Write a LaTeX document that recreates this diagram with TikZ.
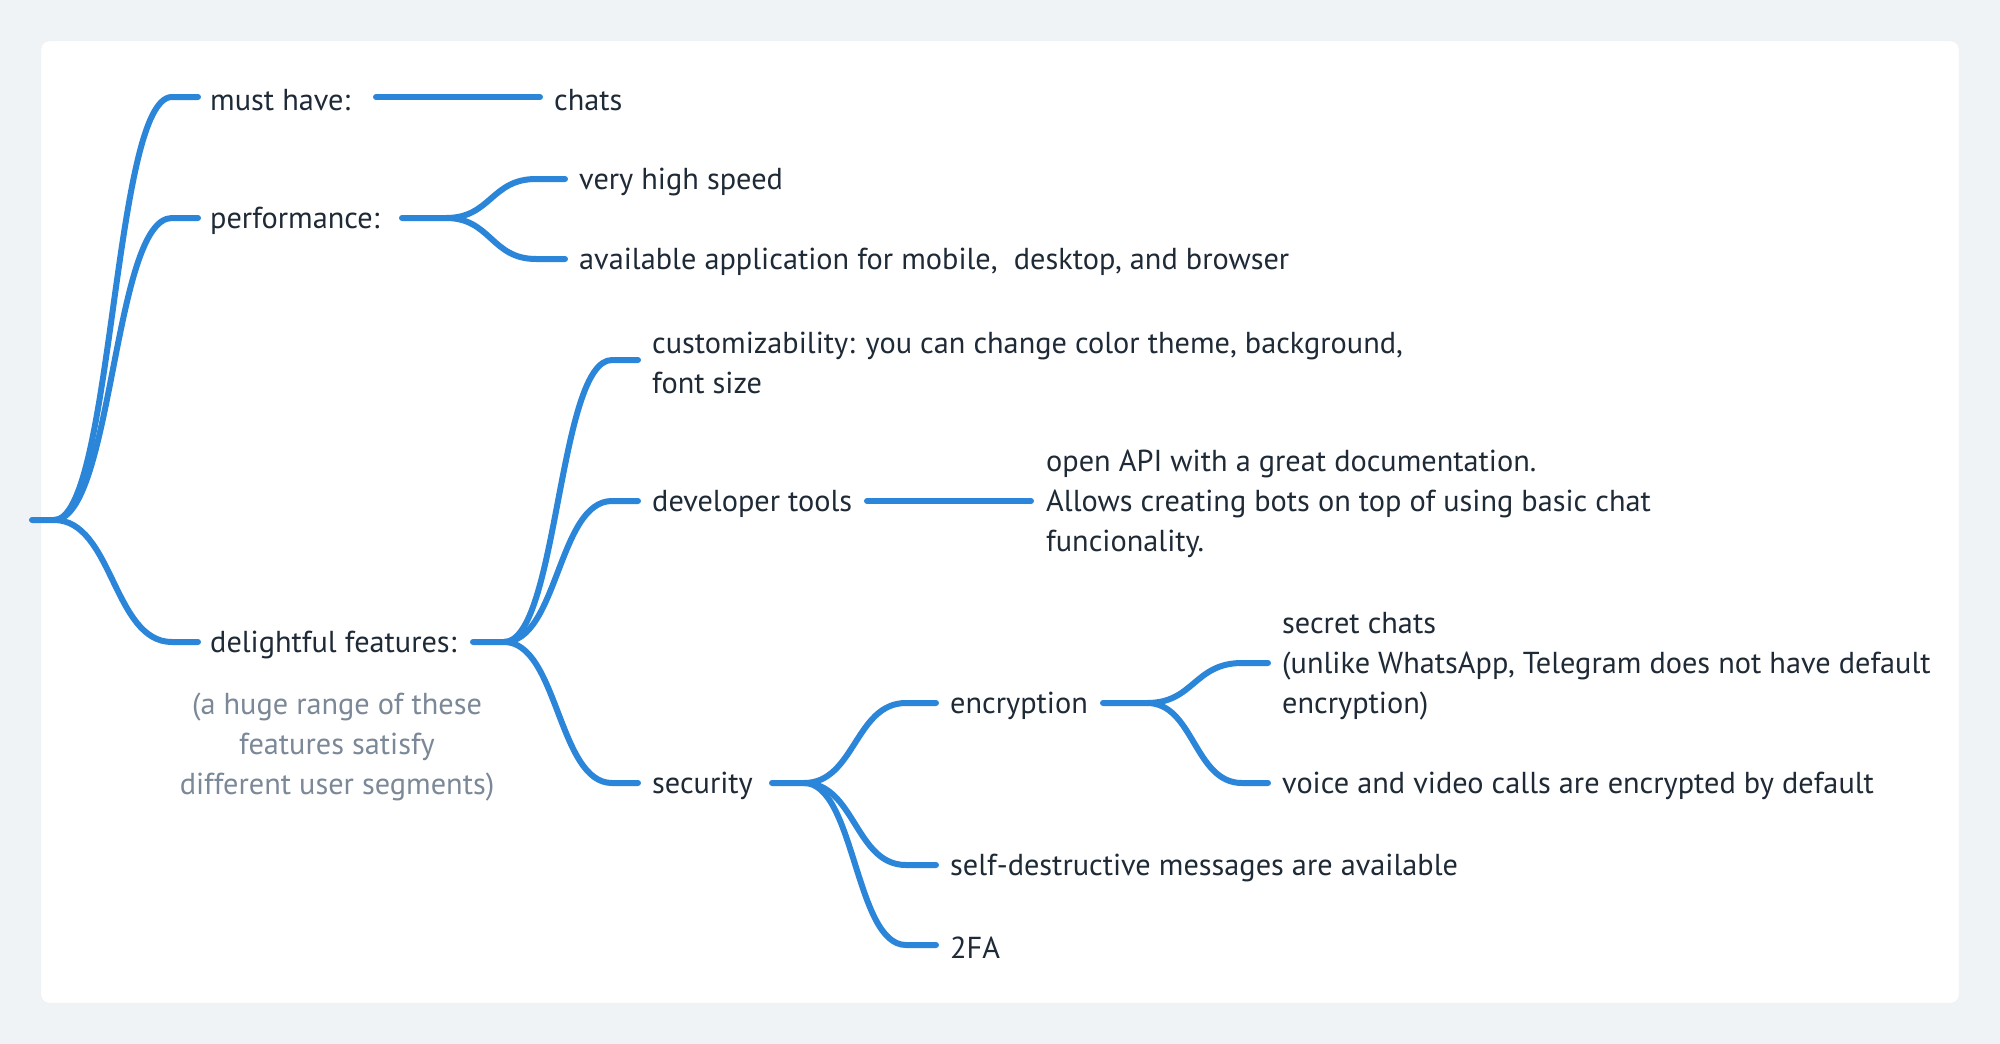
\documentclass[tikz,border=0pt]{standalone}
\usepackage{fontspec}
\setmainfont{PT Sans}
\definecolor{bgc}{HTML}{EFF3F6}
\definecolor{lc}{HTML}{2B86D9}
\definecolor{tc}{HTML}{1F2A37}
\definecolor{nc}{HTML}{7B8898}
\tikzset{
  txt/.style={font=\fontsize{30.3}{40}\selectfont, text=tc, inner sep=0pt, anchor=west, align=left, yshift=-3pt},
  note/.style={font=\fontsize{30.3}{40}\selectfont, text=nc, inner sep=0pt, align=center, yshift=-3pt},
  link/.style={draw=lc, line width=6pt, line cap=round, line join=round}
}
\begin{document}
\begin{tikzpicture}[x=1pt,y=-1pt]
\fill[bgc] (0,0) rectangle (2000,1044);
\useasboundingbox (0,0) rectangle (2000,1044);
\fill[white, draw=black!6, rounded corners=8pt] (41,41) rectangle (1959,1003);

% nodes
\node[txt] (must) at (210,97) {must have:};
\node[txt] (chats) at (554,97) {chats};
\node[txt] (perf) at (210,218) {performance:};
\node[txt] (speed) at (579,179) {very high speed};
\node[txt] (avail) at (579,259) {available application for mobile,\ \ desktop, and browser};
\node[txt] (delight) at (210,642) {delightful features:};
\node[note] (note) at (337,744) {(a huge range of these\\features satisfy\\different user segments)};
\node[txt] (custom) at (652,360) {customizability: you can change color theme, background,\\font size};
\node[txt] (dev) at (652,501) {developer tools};
\node[txt] (api) at (1046,501) {open API with a great documentation.\\Allows creating bots on top of using basic chat\\funcionality.};
\node[txt] (sec) at (652,783) {security};
\node[txt] (enc) at (950,703) {encryption};
\node[txt] (self) at (950,865) {self-destructive messages are available};
\node[txt] (tfa) at (950,945) {2FA};
\node[txt] (secret) at (1282,663) {secret chats\\(unlike WhatsApp, Telegram does not have default\\encryption)};
\node[txt] (voice) at (1282,783) {voice and video calls are encrypted by default};

% connector anchors
\coordinate (root) at (32,520);
\coordinate (rootJ) at (54,520);
\coordinate (mustR) at (376,97);
\coordinate (perfR) at (402,218);
\coordinate (perfJ) at (446,218);
\coordinate (delR) at (473,642);
\coordinate (delJ) at (504,642);
\coordinate (devR) at (867,501);
\coordinate (secR) at (772,783);
\coordinate (secJ) at (804,783);
\coordinate (encR) at (1103,703);
\coordinate (encJ) at (1147,703);

% root
\draw[link] (root) -- (rootJ) .. controls (113,520) and (113,97) .. (172,97) -- ([xshift=-12pt,yshift=3pt]must.west);
\draw[link] (rootJ) .. controls (113,520) and (113,218) .. (172,218) -- ([xshift=-12pt,yshift=3pt]perf.west);
\draw[link] (rootJ) .. controls (113,520) and (113,642) .. (172,642) -- ([xshift=-12pt,yshift=3pt]delight.west);

% must have
\draw[link] (mustR) -- ([xshift=-14pt,yshift=3pt]chats.west);

% performance
\draw[link] (perfR) -- (perfJ) .. controls (491,218) and (491,179) .. (536,179) -- ([xshift=-14pt,yshift=3pt]speed.west);
\draw[link] (perfJ) .. controls (491,218) and (491,259) .. (536,259) -- ([xshift=-14pt,yshift=3pt]avail.west);

% delightful
\draw[link] (delR) -- (delJ) .. controls (558,642) and (558,360) .. (612,360) -- ([xshift=-14pt,yshift=3pt]custom.west);
\draw[link] (delJ) .. controls (558,642) and (558,501) .. (612,501) -- ([xshift=-14pt,yshift=3pt]dev.west);
\draw[link] (delJ) .. controls (558,642) and (558,783) .. (612,783) -- ([xshift=-14pt,yshift=3pt]sec.west);

% developer tools
\draw[link] (devR) -- ([xshift=-15pt,yshift=3pt]api.west);

% security
\draw[link] (secR) -- (secJ) .. controls (855,783) and (855,703) .. (906,703) -- ([xshift=-14pt,yshift=3pt]enc.west);
\draw[link] (secJ) .. controls (855,783) and (855,865) .. (906,865) -- ([xshift=-14pt,yshift=3pt]self.west);
\draw[link] (secJ) .. controls (855,783) and (855,945) .. (906,945) -- ([xshift=-14pt,yshift=3pt]tfa.west);

% encryption
\draw[link] (encR) -- (encJ) .. controls (1194,703) and (1194,663) .. (1242,663) -- ([xshift=-14pt,yshift=3pt]secret.west);
\draw[link] (encJ) .. controls (1194,703) and (1194,783) .. (1242,783) -- ([xshift=-14pt,yshift=3pt]voice.west);
\end{tikzpicture}
\end{document}
